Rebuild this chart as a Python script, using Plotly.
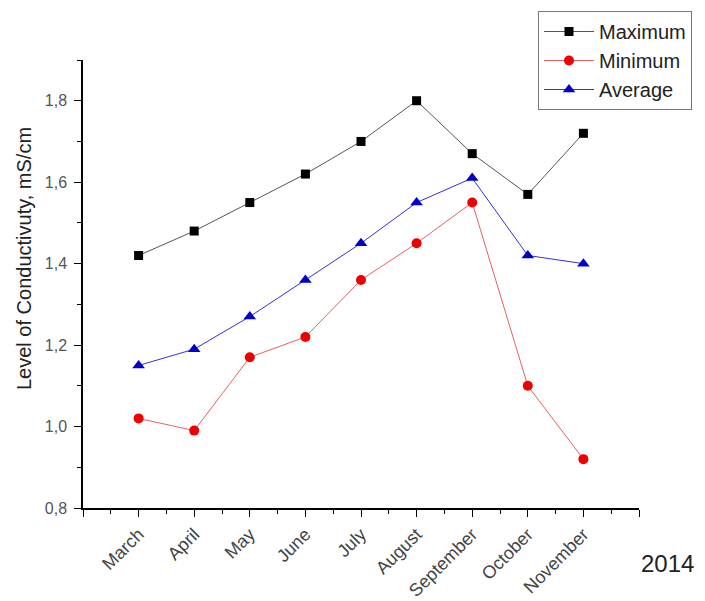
import plotly.graph_objects as go

months = ["March", "April", "May", "June", "July", "August", "September", "October", "November"]
maximum = [1.42, 1.48, 1.55, 1.62, 1.70, 1.80, 1.67, 1.57, 1.72]
minimum = [1.02, 0.99, 1.17, 1.22, 1.36, 1.45, 1.55, 1.10, 0.92]
average = [1.15, 1.19, 1.27, 1.36, 1.45, 1.55, 1.61, 1.42, 1.40]
y_ticks = [0.8, 1.0, 1.2, 1.4, 1.6, 1.8]

xpos = list(range(1, len(months) + 1))

# page body has an 8px default margin; compensate so the plot sits where the reference does
OFF = 8
W, H = 705, 601
L, T = 83 - OFF, 60 - OFF
PW, PH = 556, 448
R = W - L - PW
B = H - T - PH


def px_x(X):
    return (X - OFF - L) / PW


def px_y(Y):
    return (T + PH - (Y - OFF)) / PH


fig = go.Figure()
fig.add_trace(go.Scatter(x=xpos, y=maximum, name="Maximum", mode="lines+markers",
                         line=dict(color="#555555", width=1),
                         marker=dict(symbol="square", size=9, color="black")))
fig.add_trace(go.Scatter(x=xpos, y=minimum, name="Minimum", mode="lines+markers",
                         line=dict(color="#e86060", width=1),
                         marker=dict(symbol="circle", size=10, color="#ee0000")))
fig.add_trace(go.Scatter(x=xpos, y=average, name="Average", mode="lines+markers",
                         line=dict(color="#3030e0", width=1),
                         marker=dict(symbol="triangle-up", size=11, color="#0000cc")))

fig.update_layout(
    width=W, height=H,
    margin=dict(l=L, r=R, t=T, b=B, autoexpand=False),
    plot_bgcolor="white", paper_bgcolor="white",
    font=dict(family="Arial, Liberation Sans, sans-serif", color="#222222"),
    separators=",.",
    showlegend=True,
    xaxis=dict(
        range=[0, 10], tickmode="array",
        tickvals=[0] + xpos + [10], ticktext=[""] + months + [""],
        tickangle=-45, tickfont=dict(size=18, color="#444444"),
        showline=True, linecolor="black", linewidth=1.5,
        ticks="outside", ticklen=7, tickcolor="black",
        minor=dict(ticks="outside", ticklen=4, dtick=0.5, tick0=0, tickcolor="black", showgrid=False),
        showgrid=False, zeroline=False, automargin=False,
    ),
    yaxis=dict(
        range=[0.8, 1.9], tickmode="array", tickvals=y_ticks,
        tickformat=".1f", tickfont=dict(size=16, color="#555555"),
        ticklabelstandoff=4,
        showline=True, linecolor="black", linewidth=1.5,
        ticks="outside", ticklen=7, tickcolor="black",
        minor=dict(ticks="outside", ticklen=4, dtick=0.1, tick0=0.8, tickcolor="black", showgrid=False),
        showgrid=False, zeroline=False, automargin=False,
    ),
    annotations=[
        dict(text="2014", x=px_x(667), y=px_y(563), xref="paper", yref="paper",
             xanchor="center", yanchor="middle", showarrow=False,
             font=dict(size=24, color="#222222")),
        dict(text="Level of Conductivuty, mS/cm", x=px_x(24), y=px_y(259), xref="paper", yref="paper",
             xanchor="center", yanchor="middle", showarrow=False, textangle=-90,
             font=dict(size=20, color="#222222")),
    ],
    legend=dict(x=(538 - OFF) / W, y=1 - (11 - OFF) / H, xref="container", yref="container",
                xanchor="left", yanchor="top",
                bordercolor="#777777", borderwidth=1, bgcolor="white",
                font=dict(size=20, color="#222222"), tracegroupgap=0,
                itemwidth=50),
)
fig.write_html("out.html")
